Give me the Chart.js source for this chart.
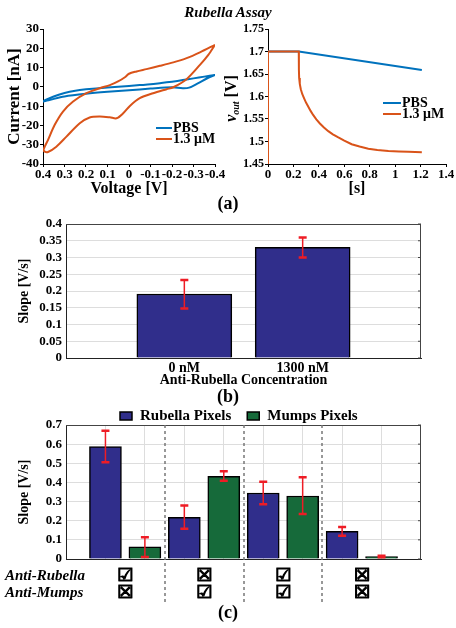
<!DOCTYPE html>
<html><head><meta charset="utf-8">
<script src="https://cdn.jsdelivr.net/npm/chart.js@4/dist/chart.umd.min.js"></script>
<style>
html,body{margin:0;padding:0;background:#fff;}
#wrap{position:relative;width:456px;height:628px;overflow:hidden;background:#fff;}
canvas{position:absolute;}
.lbl{position:absolute;font-family:'Liberation Serif','Times New Roman',serif;font-weight:bold;color:#000;white-space:nowrap;text-align:center;}
</style></head><body>
<div id="wrap">
<canvas id="cA1" width="228" height="200" style="left:0;top:0"></canvas>
<canvas id="cA2" width="236" height="200" style="left:220px;top:0"></canvas>
<canvas id="cB" width="456" height="215" style="left:0;top:195px"></canvas>
<canvas id="cC" width="456" height="223" style="left:0;top:405px"></canvas>
<div class="lbl" style="left:0;top:4px;width:456px;font-size:15px;line-height:16px;font-style:italic;">Rubella Assay</div>
<div class="lbl" style="left:0;top:194px;width:456px;font-size:18px;line-height:18px;">(a)</div>
<div class="lbl" style="left:0;top:387px;width:456px;font-size:18px;line-height:18px;">(b)</div>
<div class="lbl" style="left:0;top:603px;width:456px;font-size:18px;line-height:18px;">(c)</div>
</div>
<script>
const FONT = "'Liberation Serif','Times New Roman',serif";
const BLUE = '#0072BD', ORANGE = '#D95319';
const BAR_BLUE = '#302e8b', BAR_GREEN = '#166a3a', ERR_RED = '#ee1c25';

// ---- Panel (a) left: cyclic voltammetry ----
const cvVoltPBS = [-0.4,-0.35,-0.3,-0.25,-0.2,-0.15,-0.1,-0.05,0,0.1,0.2,0.25,0.3,0.35,0.4,0.37,0.3,0.2,0.1,0,-0.1,-0.2,-0.25,-0.28,-0.32,-0.36,-0.4];
const cvCurrPBS = [6.2,5.3,4.4,3.5,2.7,2.0,1.3,0.9,0.5,-0.3,-1.3,-2.0,-3.2,-5.0,-7.6,-6.8,-5.0,-3.6,-2.6,-1.8,-0.9,-0.2,-0.7,-0.4,1.8,4.2,6.2];
const cvVoltHigh = [-0.4,-0.33,-0.268,-0.206,-0.144,-0.081,-0.035,0,0.019,0.051,0.089,0.136,0.198,0.26,0.307,0.346,0.377,0.397,
                    0.392,0.377,0.338,0.291,0.229,0.183,0.136,0.089,0.058,0.027,-0.004,-0.05,-0.112,-0.175,-0.206,-0.268,-0.33,-0.369,-0.4];
const cvCurrHigh = [21.8,17.9,14.9,12.7,10.9,9.2,8.0,6.8,5.0,2.8,0.9,-0.7,-3.3,-7.6,-12.8,-19.8,-27.6,-32.4,
                    -33.6,-33.8,-31.0,-25.8,-18.9,-15.9,-15.4,-15.8,-16.3,-13.7,-9.9,-5.9,-3.3,-1.2,-0.2,4.0,11.4,16.6,21.8];
const cvXTicks = {min:-0.4, max:0.4, step:0.1};
const cvYTicks = {min:-40, max:30, step:10};

// ---- Panel (a) right: v_out transient ----
const tPBS = [0,0.242,1.21];
const vPBS = [1.70,1.70,1.659];
const tHigh = [0,0,0.242,0.243,0.245,0.25,0.258,0.27,0.284,0.30,0.316,0.335,0.355,0.38,0.408,0.44,0.474,0.51,0.553,0.60,0.658,0.72,0.789,0.86,0.947,1.03,1.105,1.21];
const vHigh = [1.45,1.70,1.70,1.66,1.641,1.628,1.616,1.605,1.596,1.586,1.578,1.568,1.559,1.549,1.540,1.531,1.523,1.516,1.509,1.502,1.494,1.489,1.484,1.481,1.479,1.478,1.477,1.476];
const seriesLabels = ['PBS','1.3 μM'];

// ---- Panel (b) ----
const bCategories = ['0 nM','1300 nM'];
const bSlope = [0.191,0.330];
const bErrLow = [0.148,0.300];
const bErrHigh = [0.233,0.360];

// ---- Panel (c) ----
const cSeries = ['Rubella Pixels','Mumps Pixels'];
const rubellaSlope = [0.587,0.218,0.345,0.145];
const rubellaErrLow = [0.505,0.158,0.286,0.122];
const rubellaErrHigh = [0.670,0.279,0.404,0.167];
const mumpsSlope = [0.063,0.432,0.329,0.012];
const mumpsErrLow = [0.010,0.409,0.235,0.009];
const mumpsErrHigh = [0.113,0.458,0.427,0.017];
const antiRubella = [true,false,true,false];
const antiMumps = [false,true,true,false];
const rowLabels = ['Anti-Rubella','Anti-Mumps'];

const f = (size, style) => ({family: FONT, size: size, weight: 'bold', style: style || 'normal'});
const fmt = d => v => String(Number(Number(v).toFixed(d)));
const pts = (xs, ys) => xs.map((x, i) => ({x: x, y: ys[i]}));

function lineLegend(x1, x2, ys) {
  return {id: 'lineLegend', afterDraw(chart) {
    const ctx = chart.ctx; ctx.save();
    ctx.font = 'bold 14px ' + FONT; ctx.textBaseline = 'middle'; ctx.fillStyle = '#000';
    chart.data.datasets.forEach((ds, i) => {
      const y = ys[i];
      ctx.strokeStyle = ds.borderColor; ctx.lineWidth = 2;
      ctx.beginPath(); ctx.moveTo(x1, y); ctx.lineTo(x2, y); ctx.stroke();
      ctx.fillText(ds.label, x2 + 1, y);
    });
    ctx.restore();
  }};
}

const errorBars = {id: 'errorBars', afterDatasetsDraw(chart) {
  const ctx = chart.ctx, ys = chart.scales.y;
  ctx.save(); ctx.strokeStyle = ERR_RED;
  chart.data.datasets.forEach((ds, di) => {
    const meta = chart.getDatasetMeta(di);
    ds.data.forEach((v, i) => {
      if (v === null || ds.errLow[i] === null) return;
      const x = meta.data[i].x;
      const yl = ys.getPixelForValue(ds.errLow[i]), yh = ys.getPixelForValue(ds.errHigh[i]);
      ctx.lineWidth = 1.5; ctx.beginPath(); ctx.moveTo(x, yl); ctx.lineTo(x, yh); ctx.stroke();
      ctx.lineWidth = 2.5; ctx.beginPath();
      ctx.moveTo(x - 4, yl); ctx.lineTo(x + 4, yl); ctx.moveTo(x - 4, yh); ctx.lineTo(x + 4, yh); ctx.stroke();
    });
  });
  ctx.restore();
}};

const boxFrame = {id: 'boxFrame', afterDraw(chart) {
  const ctx = chart.ctx, a = chart.chartArea, ys = chart.scales.y;
  ctx.save(); ctx.strokeStyle = '#444'; ctx.lineWidth = 1;
  ctx.beginPath();
  ctx.moveTo(a.left, a.top + 0.5); ctx.lineTo(a.right, a.top + 0.5);
  ctx.moveTo(a.right - 0.5, a.top); ctx.lineTo(a.right - 0.5, a.bottom);
  ys.ticks.forEach((t, i) => { const y = ys.getPixelForTick(i); ctx.moveTo(a.right, y); ctx.lineTo(a.right - 3, y); });
  ctx.stroke(); ctx.restore();
}};

// Panel (a) left
new Chart(document.getElementById('cA1'), {
  type: 'scatter',
  data: {datasets: [
    {label: seriesLabels[0], data: pts(cvVoltPBS, cvCurrPBS), showLine: true, borderColor: BLUE, backgroundColor: BLUE, borderWidth: 2, pointRadius: 0, tension: 0.3, order: 1},
    {label: seriesLabels[1], data: pts(cvVoltHigh, cvCurrHigh), showLine: true, borderColor: ORANGE, backgroundColor: ORANGE, borderWidth: 2, pointRadius: 0, tension: 0.3, order: 0}
  ]},
  options: {
    responsive: false, animation: false, events: [],
    layout: {padding: {left: 0, top: 29, right: 13, bottom: 0}},
    plugins: {legend: {display: false}, tooltip: {enabled: false}},
    scales: {
      x: {type: 'linear', reverse: true, min: cvXTicks.min, max: cvXTicks.max, afterFit: s => { s.height = 36; },
        ticks: {stepSize: cvXTicks.step, autoSkip: false, maxRotation: 0, minRotation: 0, padding: 0, color: '#000', font: f(13), callback: fmt(1)},
        grid: {drawOnChartArea: false, drawTicks: true, tickLength: 3, color: '#000'},
        border: {color: '#000', width: 1},
        title: {display: true, text: 'Voltage [V]', color: '#000', font: f(16), padding: {top: 0, bottom: 2}}},
      y: {min: cvYTicks.min, max: cvYTicks.max, afterFit: s => { s.width = 43; },
        ticks: {stepSize: cvYTicks.step, autoSkip: false, padding: 1, color: '#000', font: f(13), callback: fmt(0)},
        grid: {drawOnChartArea: false, drawTicks: true, tickLength: 3, color: '#000'},
        border: {color: '#000', width: 1},
        title: {display: true, text: 'Current [nA]', color: '#000', font: f(17), padding: {top: 4, bottom: 0}}}
    }
  },
  plugins: [lineLegend(156, 172, [128, 139])]
});

// Panel (a) right
const voutTitle = {id: 'voutTitle', afterDraw(chart) {
  const ctx = chart.ctx, a = chart.chartArea;
  ctx.save(); ctx.translate(12, (a.top + a.bottom) / 2 + 2); ctx.rotate(-Math.PI / 2);
  ctx.fillStyle = '#000'; ctx.textBaseline = 'middle'; ctx.textAlign = 'left';
  const f1 = 'italic bold 16px ' + FONT, f2 = 'italic bold 10px ' + FONT, f3 = 'bold 16px ' + FONT;
  ctx.font = f1; const w1 = ctx.measureText('v').width;
  ctx.font = f2; const w2 = ctx.measureText('out').width;
  ctx.font = f3; const w3 = ctx.measureText(' [V]').width;
  let x = -(w1 + w2 + w3) / 2;
  ctx.font = f1; ctx.fillText('v', x, 0); x += w1;
  ctx.font = f2; ctx.fillText('out', x, 4); x += w2;
  ctx.font = f3; ctx.fillText(' [V]', x, 0);
  ctx.restore();
}};
new Chart(document.getElementById('cA2'), {
  type: 'scatter',
  data: {datasets: [
    {label: seriesLabels[0], data: pts(tPBS, vPBS), showLine: true, borderColor: BLUE, backgroundColor: BLUE, borderWidth: 2, pointRadius: 0, tension: 0, order: 1},
    {label: seriesLabels[1], data: pts(tHigh, vHigh), showLine: true, borderColor: ORANGE, backgroundColor: ORANGE, borderWidth: 2, pointRadius: 0, tension: 0, order: 0}
  ]},
  options: {
    responsive: false, animation: false, events: [],
    layout: {padding: {left: 0, top: 29, right: 10, bottom: 0}},
    plugins: {legend: {display: false}, tooltip: {enabled: false}},
    scales: {
      x: {type: 'linear', min: 0, max: 1.4, afterFit: s => { s.height = 36; },
        ticks: {stepSize: 0.2, autoSkip: false, maxRotation: 0, minRotation: 0, padding: 0, color: '#000', font: f(13), callback: fmt(1)},
        grid: {drawOnChartArea: false, drawTicks: true, tickLength: 3, color: '#000'},
        border: {color: '#000', width: 1},
        title: {display: true, text: '[s]', color: '#000', font: f(16), padding: {top: 0, bottom: 2}}},
      y: {min: 1.45, max: 1.75, afterFit: s => { s.width = 48; },
        ticks: {stepSize: 0.05, autoSkip: false, padding: 1, color: '#000', font: f(12), callback: fmt(2)},
        grid: {drawOnChartArea: false, drawTicks: true, tickLength: 3, color: '#000'},
        border: {color: '#000', width: 1}}
    }
  },
  plugins: [lineLegend(163, 181, [103, 114]), voutTitle]
});

// Panel (b)
new Chart(document.getElementById('cB'), {
  type: 'bar',
  data: {labels: ['', ...bCategories, ''], datasets: [
    {label: 'Slope', data: [null, ...bSlope, null], errLow: [null, ...bErrLow, null], errHigh: [null, ...bErrHigh, null],
     backgroundColor: BAR_BLUE, borderColor: '#000', borderWidth: 1.5, barThickness: 95}
  ]},
  options: {
    responsive: false, animation: false, events: [],
    layout: {padding: {left: 0, top: 29, right: 35, bottom: 0}},
    plugins: {legend: {display: false}, tooltip: {enabled: false}},
    scales: {
      x: {offset: false, afterFit: s => { s.height = 52; },
        ticks: {padding: 2, color: '#000', font: f(14), maxRotation: 0, autoSkip: false},
        grid: {display: false, drawTicks: false, offset: false},
        border: {color: '#222', width: 1},
        title: {display: true, text: 'Anti-Rubella Concentration', color: '#000', font: f(14), padding: {top: 0, bottom: 21}}},
      y: {min: 0, max: 0.4, afterFit: s => { s.width = 66; },
        ticks: {stepSize: 0.05, autoSkip: false, padding: 4, color: '#000', font: f(13), callback: fmt(2)},
        grid: {color: '#dddddd', drawTicks: false},
        border: {color: '#222', width: 1},
        title: {display: true, text: 'Slope [V/s]', color: '#000', font: f(14), padding: {top: 16, bottom: 0}}}
    }
  },
  plugins: [errorBars, boxFrame]
});

// Panel (c)
const nGroups = rubellaSlope.length;
const cLabels = [''];
const rubData = [null], mumData = [null];
const rubLo = [null], rubHi = [null], mumLo = [null], mumHi = [null];
for (let g = 0; g < nGroups; g++) {
  cLabels.push('Rubella ' + (g + 1), 'Mumps ' + (g + 1));
  rubData.push(rubellaSlope[g], null); mumData.push(null, mumpsSlope[g]);
  rubLo.push(rubellaErrLow[g], null); rubHi.push(rubellaErrHigh[g], null);
  mumLo.push(null, mumpsErrLow[g]); mumHi.push(null, mumpsErrHigh[g]);
}
cLabels.push(''); rubData.push(null); mumData.push(null);
rubLo.push(null); rubHi.push(null); mumLo.push(null); mumHi.push(null);

const cExtras = {id: 'cExtras', afterDraw(chart) {
  const ctx = chart.ctx, a = chart.chartArea, xs = chart.scales.x;
  ctx.save();
  // group separators
  ctx.strokeStyle = '#777'; ctx.lineWidth = 1.5; ctx.setLineDash([3, 3]);
  for (let g = 1; g < nGroups; g++) {
    const px = Math.round((xs.getPixelForTick(2 * g) + xs.getPixelForTick(2 * g + 1)) / 2);
    ctx.beginPath(); ctx.moveTo(px, a.top); ctx.lineTo(px, 198); ctx.stroke();
  }
  ctx.setLineDash([]);
  // legend
  ctx.font = 'bold 15px ' + FONT; ctx.textBaseline = 'middle'; ctx.textAlign = 'left';
  let lx = 120;
  chart.data.datasets.forEach(ds => {
    ctx.fillStyle = ds.backgroundColor; ctx.fillRect(lx, 7, 12, 8);
    ctx.strokeStyle = '#000'; ctx.lineWidth = 1.5; ctx.strokeRect(lx, 7, 12, 8);
    ctx.fillStyle = '#000'; ctx.fillText(ds.label, lx + 20, 11);
    lx += 20 + ctx.measureText(ds.label).width + 16;
  });
  // row labels and checkboxes
  const rowY = [171, 188];
  ctx.font = 'italic bold 15px ' + FONT; ctx.fillStyle = '#000';
  rowLabels.forEach((t, r) => ctx.fillText(t, 5, rowY[r]));
  ctx.font = 'bold 18px "DejaVu Sans"'; ctx.textAlign = 'center';
  ctx.strokeStyle = '#000'; ctx.lineWidth = 1.1;
  for (let g = 0; g < nGroups; g++) {
    const cx = (xs.getPixelForTick(2 * g + 1) + xs.getPixelForTick(2 * g + 2)) / 2;
    const s1 = antiRubella[g] ? '\u2611' : '\u2612', s2 = antiMumps[g] ? '\u2611' : '\u2612';
    ctx.fillText(s1, cx, rowY[0]); ctx.strokeText(s1, cx, rowY[0]);
    ctx.fillText(s2, cx, rowY[1]); ctx.strokeText(s2, cx, rowY[1]);
  }
  ctx.restore();
}};

new Chart(document.getElementById('cC'), {
  type: 'bar',
  data: {labels: cLabels, datasets: [
    {label: cSeries[0], data: rubData, errLow: rubLo, errHigh: rubHi, backgroundColor: BAR_BLUE, borderColor: '#000', borderWidth: 1.5, barThickness: 32, grouped: false},
    {label: cSeries[1], data: mumData, errLow: mumLo, errHigh: mumHi, backgroundColor: BAR_GREEN, borderColor: '#000', borderWidth: 1.5, barThickness: 32, grouped: false}
  ]},
  options: {
    responsive: false, animation: false, events: [],
    layout: {padding: {left: 0, top: 20, right: 35, bottom: 0}},
    plugins: {legend: {display: false}, tooltip: {enabled: false}},
    scales: {
      x: {offset: false, afterFit: s => { s.height = 69; },
        ticks: {display: false, autoSkip: false},
        grid: {offset: false, drawTicks: false, color: c => (c.index > 0 && c.index < cLabels.length - 1) ? '#dddddd' : 'rgba(0,0,0,0)'},
        border: {color: '#222', width: 1}},
      y: {min: 0, max: 0.7, afterFit: s => { s.width = 66; },
        ticks: {stepSize: 0.1, autoSkip: false, padding: 4, color: '#000', font: f(13), callback: fmt(1)},
        grid: {color: '#dddddd', drawTicks: false},
        border: {color: '#222', width: 1},
        title: {display: true, text: 'Slope [V/s]', color: '#000', font: f(14), padding: {top: 16, bottom: 0}}}
    }
  },
  plugins: [errorBars, boxFrame, cExtras]
});
</script>
</body></html>
